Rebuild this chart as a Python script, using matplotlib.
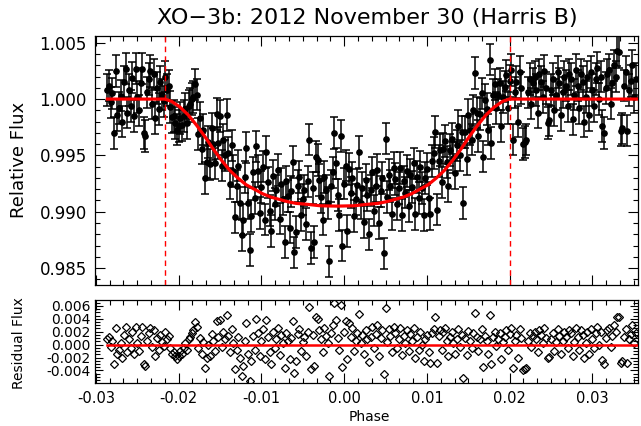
import numpy as np
import matplotlib.pyplot as plt
from matplotlib.ticker import MultipleLocator, AutoMinorLocator, FormatStrFormatter

# orbital phase of each exposure, units of 1e-4
phase_e4 = [
    -286, -284, -282, -280, -278, -276, -274, -272, -270, -268, -266, -264, -262, -260, -258, -256, -254, -252, -250, -248,
    -246, -244, -242, -240, -238, -236, -234, -232, -230, -228, -226, -224, -222, -220, -218, -216, -214, -212, -210, -208,
    -206, -204, -202, -200, -198, -196, -194, -192, -190, -188, -186, -184, -182, -180, -178, -176, -174, -172, -170, -168,
    -166, -164, -162, -160, -158, -156, -154, -152, -150, -148, -146, -144, -142, -140, -138, -136, -134, -132, -130, -128,
    -126, -124, -122, -120, -118, -116, -114, -112, -110, -108, -106, -104, -102, -100, -98, -96, -94, -92, -90, -88,
    -86, -84, -82, -80, -78, -76, -74, -72, -70, -68, -66, -64, -62, -60, -58, -56, -54, -52, -50, -48,
    -46, -44, -42, -40, -38, -36, -34, -32, -30, -28, -26, -24, -22, -20, -18, -16, -14, -12, -10, -8,
    -6, -4, -2, 0, 2, 4, 6, 8, 10, 12, 14, 16, 18, 20, 22, 24, 26, 28, 30, 32,
    34, 36, 38, 40, 42, 44, 46, 48, 50, 52, 54, 56, 58, 60, 62, 64, 66, 68, 70, 72,
    74, 76, 78, 80, 82, 84, 86, 88, 90, 92, 94, 96, 98, 100, 102, 104, 106, 108, 110, 112,
    114, 116, 118, 120, 122, 124, 126, 128, 130, 132, 134, 136, 138, 140, 142, 144, 146, 148, 150, 152,
    154, 156, 158, 160, 162, 164, 166, 168, 170, 172, 174, 176, 178, 180, 182, 184, 186, 188, 190, 192,
    194, 196, 198, 200, 202, 204, 206, 208, 210, 212, 214, 216, 218, 220, 222, 224, 226, 228, 230, 232,
    234, 236, 238, 240, 242, 244, 246, 248, 250, 252, 254, 256, 258, 260, 262, 264, 266, 268, 270, 272,
    274, 276, 278, 280, 282, 284, 286, 288, 290, 292, 294, 296, 298, 300, 302, 304, 306, 308, 310, 312,
    314, 316, 318, 320, 322, 324, 326, 328, 330, 332, 334, 336, 338, 340, 342, 344, 346, 348, 350, 352,
]

# relative flux minus 1, units of 1e-4
flux_e4 = [
    8, 12, -3, 5, -30, 25, -14, -8, 3, -20, 15, 27, -12, 8, -6, 19, -15, 27, 2, -10,
    14, 27, -30, -33, 6, 18, 25, -4, 22, -17, 10, -9, 15, 4, -2, 20, 8, 12, -7, -16,
    -15, -21, -27, -24, -17, -23, -15, -9, -21, -6, -4, 0, 2, 13, 4, -31, -17, -44, -27, -70,
    -56, -38, -58, -26, -40, -57, -13, -39, -15, -59, -36, -50, -14, -48, -75, -41, -64, -105, -77, -59,
    -92, -121, -107, -69, -43, -92, -134, -104, -65, -88, -42, -64, -101, -78, -60, -107, -47, -74, -99, -117,
    -68, -93, -81, -63, -106, -75, -89, -127, -73, -86, -114, -82, -56, -136, -118, -77, -69, -103, -89, -81,
    -111, -73, -36, -132, -79, -127, -51, -54, -72, -87, -107, -69, -81, -92, -144, -77, -65, -30, -57, -85,
    -103, -33, -130, -75, -59, -117, -62, -83, -70, -104, -89, -76, -47, -92, -79, -109, -72, -85, -120, -81,
    -65, -99, -77, -63, -110, -82, -70, -137, -35, -87, -67, -77, -102, -61, -71, -93, -79, -61, -103, -73,
    -83, -64, -95, -67, -78, -57, -102, -69, -88, -60, -79, -103, -70, -62, -88, -102, -55, -48, -29, -98,
    -55, -45, -74, -44, -37, -56, -77, -45, -35, -52, -66, -41, -24, -50, -29, -92, -29, -53, -14, -27,
    -36, -10, 23, -12, -33, -13, 5, -51, -1, -9, -27, 35, -39, 4, 13, -8, 4, 14, -24, 2,
    11, 21, -8, 16, 26, -36, 6, 15, -20, 24, 10, -40, -38, -36, 6, 18, -4, 14, 20, 8,
    -12, 22, 15, 2, 25, 10, -21, -19, 8, 18, -10, 4, 24, 14, -14, 6, 20, 12, -6, 22,
    18, -18, 4, 26, 12, -8, 22, 15, -20, 2, 20, -14, 24, 8, -6, 18, 28, 0, 20, -24,
    -30, 10, 22, 26, -4, 14, 30, 20, 43, 42, -28, -26, 12, 24, -28, 8, 16, 30, 2, 18,
]

# data minus model, units of 1e-4
resid_e4 = [
    8, 12, -3, 5, -30, 25, -14, -8, 3, -20, 15, 27, -12, 8, -6, 19, -15, 27, 2, -10,
    14, 27, -30, -33, 6, 18, 25, -4, 22, -17, 10, -9, 15, 4, -2, 20, 9, 13, -5, -14,
    -12, -17, -22, -18, -10, -14, -5, 2, -8, 8, 12, 18, 22, 35, 28, -6, 10, -15, 4, -36,
    -20, 0, -18, 16, 5, -10, 36, 12, 38, -4, 20, 8, 46, 14, -12, 24, 2, -38, -8, 11,
    -20, -48, -33, 6, 33, -15, -56, -25, 14, -8, 39, 18, -18, 5, 24, -22, 38, 12, -12, -30,
    20, -5, 8, 26, -16, 15, 2, -36, 18, 6, -22, 10, 36, -44, -25, 16, 24, -10, 4, 12,
    -18, 20, 58, -38, 15, -33, 43, 40, 22, 8, -12, 26, 14, 3, -49, 18, 30, 65, 38, 10,
    -8, 62, -35, 20, 36, -22, 33, 12, 25, -10, 5, 18, 47, 2, 15, -15, 22, 8, -27, 12,
    28, -6, 16, 30, -18, 10, 22, -45, 57, 4, 24, 13, -12, 28, 18, -5, 9, 26, -16, 14,
    3, 22, -10, 17, 6, 26, -20, 12, -8, 20, 0, -25, 8, 15, -12, -28, 18, 24, 42, -28,
    14, 22, -8, 20, 26, 5, -18, 12, 20, 2, -14, 9, 24, -4, 15, -51, 10, -16, 21, 6,
    -6, 18, 49, 12, -10, 8, 24, -34, 14, 5, -15, 46, -30, 12, 20, -2, 9, 18, -22, 4,
    12, 22, -8, 16, 26, -36, 6, 15, -20, 24, 10, -40, -38, -36, 6, 18, -4, 14, 20, 8,
    -12, 22, 15, 2, 25, 10, -21, -19, 8, 18, -10, 4, 24, 14, -14, 6, 20, 12, -6, 22,
    18, -18, 4, 26, 12, -8, 22, 15, -20, 2, 20, -14, 24, 8, -6, 18, 28, 0, 20, -24,
    -30, 10, 22, 26, -4, 14, 30, 20, 43, 42, -28, -26, 12, 24, -28, 8, 16, 30, 2, 18,
]
flux_err = 0.0014

# fitted transit model (red curve)
model_phase_e4 = [-286, -216.5, -208.5, -198.5, -188.5, -178.5, -168.5, -158.5, -148.5, -138.5,
                  -128.5, -118.5, -108.5, -98.5, -88.5, -78.5, -68.5, -58.5, -43.5, -28.5,
                  -8.5, 11.5, 26.5, 41.5, 51.5, 61.5, 71.5, 81.5, 91.5, 101.5,
                  111.5, 121.5, 131.5, 141.5, 151.5, 161.5, 171.5, 181.5, 191.5, 199.5, 355]
model_e4 = [0, 0, -2, -7, -14, -23, -33, -44, -54, -63,
            -70, -76, -80, -84, -87, -89, -91, -92.5, -93.5, -94.7,
            -95, -94.7, -93.5, -92.5, -91, -89, -87, -84, -80, -76,
            -70, -63, -54, -44, -33, -23, -14, -7, -2, 0, 0]

contact_phases = [-0.0217, 0.0200]

phase = np.array(phase_e4) * 1e-4
flux = 1 + np.array(flux_e4) * 1e-4
resid = np.array(resid_e4) * 1e-4
model_phase = np.array(model_phase_e4) * 1e-4
model = 1 + np.array(model_e4) * 1e-4

fig = plt.figure(figsize=(6.41, 4.26), dpi=100)
ax1 = fig.add_axes([0.1482, 0.3310, 0.8471, 0.5845])
ax2 = fig.add_axes([0.1482, 0.1009, 0.8471, 0.1948])

ax1.errorbar(phase, flux, yerr=flux_err, fmt='o', color='k', ms=3.8,
             elinewidth=1.1, capsize=2.6, capthick=1.1, zorder=2)
ax1.plot(model_phase, model, color='red', lw=2.3, zorder=4)
for cp in contact_phases:
    ax1.axvline(cp, color='red', lw=1.0, dashes=(4, 3), zorder=3)

ax2.plot(phase, resid, 'D', mfc='none', mec='k', ms=3.6, mew=0.9, zorder=2)
ax2.plot(model_phase, np.zeros_like(model_phase), color='red', lw=1.8, zorder=3)

for ax in (ax1, ax2):
    ax.set_xlim(-0.0301, 0.0355)
    ax.xaxis.set_major_locator(MultipleLocator(0.01))
    ax.xaxis.set_minor_locator(AutoMinorLocator(6))
    ax.tick_params(which='both', direction='in', top=True, right=True, width=0.8)
    ax.tick_params(which='major', length=7)
    ax.tick_params(which='minor', length=3.5)
    for s in ax.spines.values():
        s.set_linewidth(0.9)

ax1.set_ylim(0.9835, 1.0056)
ax1.yaxis.set_major_locator(MultipleLocator(0.005))
ax1.yaxis.set_minor_locator(AutoMinorLocator(5))
ax1.yaxis.set_major_formatter(FormatStrFormatter('%.3f'))
ax1.tick_params(axis='y', labelsize=12, pad=6)
ax1.tick_params(axis='x', labelbottom=False)

ax2.set_ylim(-0.00595, 0.0069)
ax2.yaxis.set_major_locator(MultipleLocator(0.002))
ax2.yaxis.set_minor_locator(AutoMinorLocator(4))
ax2.yaxis.set_major_formatter(FormatStrFormatter('%.3f'))
ax2.xaxis.set_major_formatter(FormatStrFormatter('%.2f'))
ax2.tick_params(axis='y', labelsize=10, pad=3)
ax2.tick_params(axis='y', which='major', length=6)
ax2.tick_params(axis='x', labelsize=10.5, pad=6)

fig.text(0.573, 1 - 18 / 426, 'XO\u22123b: 2012 November 30 (Harris B)',
         ha='center', va='center', fontsize=16)
fig.text(19 / 641, 1 - 160 / 426, 'Relative Flux', rotation=90,
         ha='center', va='center', fontsize=13)
fig.text(19 / 641, 1 - 343 / 426, 'Residual Flux', rotation=90,
         ha='center', va='center', fontsize=10)
fig.text(369 / 641, 1 - 417 / 426, 'Phase', ha='center', va='center', fontsize=10)

fig.savefig('out.png', dpi=100)
